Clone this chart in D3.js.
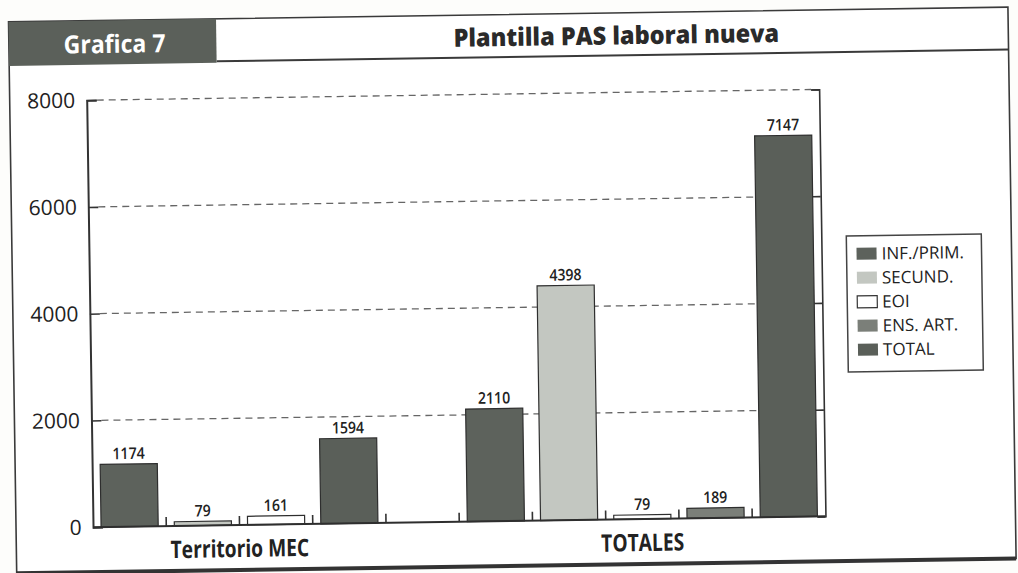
<!DOCTYPE html>
<html>
<head>
<meta charset="utf-8">
<script src="https://cdn.jsdelivr.net/npm/d3@7"></script>
<style>
  html, body { margin: 0; padding: 0; background: #fdfdfb; }
  svg { display: block; }
  text { font-family: "Open Sans", "Noto Sans", sans-serif; fill: #222; }
</style>
</head>
<body>
<svg id="chart" width="1018" height="573"></svg>
<script>
// Series, in legend order
const seriesNames = ["INF./PRIM.", "SECUND.", "EOI", "ENS. ART.", "TOTAL"];
const groupNames = ["Territorio MEC", "TOTALES"];

// Values per series (same order as seriesNames); null = no bar
const territorioMEC = [1174, 79, 161, null, 1594];
const totales = [2110, 4398, 79, 189, 7147];

// Order in which the series occupy the slots of each group
const slotOrderMEC = ["INF./PRIM.", "SECUND.", "EOI", "TOTAL", "ENS. ART."];
const slotOrderTotales = ["INF./PRIM.", "SECUND.", "EOI", "ENS. ART.", "TOTAL"];

const yTicks = [0, 2000, 4000, 6000, 8000];

const chartTitle = "Plantilla PAS laboral nueva";
const chartNumber = "Grafica 7";

const fills = {
  "INF./PRIM.": "#5d625c",
  "SECUND.": "#c3c7c1",
  "EOI": "#ffffff",
  "ENS. ART.": "#7b7f79",
  "TOTAL": "#5a5f59"
};

// Build flat slot list
const valuesByGroup = { "Territorio MEC": territorioMEC, "TOTALES": totales };
const orderByGroup = { "Territorio MEC": slotOrderMEC, "TOTALES": slotOrderTotales };
const slots = [];
groupNames.forEach(g => {
  orderByGroup[g].forEach(s => {
    const v = valuesByGroup[g][seriesNames.indexOf(s)];
    slots.push({ id: g + "|" + s, group: g, series: s, value: v });
  });
});

const svg = d3.select("#chart");
const root = svg.append("g").attr("transform", "rotate(-0.85,509,286)");

// Outer frame
const frame = { left: 12.5, right: 1012, top: 14.5, bottom: 566 };
root.append("rect")
  .attr("x", frame.left).attr("y", frame.top)
  .attr("width", frame.right - frame.left).attr("height", frame.bottom - frame.top)
  .attr("fill", "#ffffff").attr("stroke", "#3a3a3a").attr("stroke-width", 1.6);
root.append("line")
  .attr("x1", frame.left).attr("x2", frame.right)
  .attr("y1", frame.bottom).attr("y2", frame.bottom)
  .attr("stroke", "#333").attr("stroke-width", 4);

// Header
const headerBottom = 58.5;
root.append("line")
  .attr("x1", 220).attr("x2", frame.right)
  .attr("y1", 57).attr("y2", 57)
  .attr("stroke", "#3a3a3a").attr("stroke-width", 2);
root.append("rect")
  .attr("x", frame.left).attr("y", frame.top)
  .attr("width", 220 - frame.left).attr("height", headerBottom - frame.top)
  .attr("fill", "#5b605a");

function condense(sel, k) {
  sel.each(function () {
    const w = this.getComputedTextLength();
    d3.select(this).attr("textLength", w * k).attr("lengthAdjust", "spacingAndGlyphs");
  });
}

root.append("text")
  .attr("x", (frame.left + 220) / 2 + 2).attr("y", 47)
  .attr("text-anchor", "middle")
  .style("font-size", "25px").style("font-weight", 700)
  .style("fill", "#ffffff")
  .text(chartNumber)
  .call(condense, 0.92);

root.append("text")
  .attr("x", (220 + frame.right) / 2 + 4).attr("y", 46)
  .attr("text-anchor", "middle")
  .style("font-size", "25px").style("font-weight", 800)
  .style("fill", "#2a2a2a")
  .text(chartTitle)
  .call(condense, 0.94);

// Plot area
const plot = { left: 89.5, right: 822, top: 94, bottom: 521 };

const x = d3.scaleBand()
  .domain(slots.map(d => d.id))
  .range([plot.left, plot.right])
  .paddingInner(0.22)
  .paddingOuter(0.11);

const y = d3.scaleLinear().domain([0, 8000]).range([plot.bottom, plot.top]);

// Dashed gridlines
root.append("g")
  .selectAll("line")
  .data(yTicks.filter(t => t > 0))
  .join("line")
  .attr("x1", plot.left + 10).attr("x2", plot.right - 8)
  .attr("y1", d => y(d)).attr("y2", d => y(d))
  .attr("stroke", "#666").attr("stroke-width", 1.3)
  .attr("stroke-dasharray", "7,5");

// Left axis with inward ticks
const yAxisLeft = root.append("g")
  .attr("transform", `translate(${plot.left},0)`)
  .call(d3.axisRight(y).tickValues(yTicks).tickSize(10).tickFormat(""));
yAxisLeft.select(".domain").attr("stroke", "#333").attr("stroke-width", 2);
yAxisLeft.selectAll(".tick line").attr("stroke", "#333").attr("stroke-width", 1.6);

// Right axis with inward ticks
const yAxisRight = root.append("g")
  .attr("transform", `translate(${plot.right},0)`)
  .call(d3.axisLeft(y).tickValues(yTicks).tickSize(8).tickFormat(""));
yAxisRight.select(".domain").attr("stroke", "#333").attr("stroke-width", 1.6);
yAxisRight.selectAll(".tick line").attr("stroke", "#333").attr("stroke-width", 1.6);

// Y tick labels
root.append("g")
  .selectAll("text")
  .data(yTicks)
  .join("text")
  .attr("x", 78).attr("y", d => y(d))
  .attr("dy", "0.35em")
  .attr("text-anchor", "end")
  .style("font-size", "21px")
  .text(d => d);

// Bars
const barData = slots.filter(d => d.value != null);
root.append("g")
  .selectAll("rect")
  .data(barData)
  .join("rect")
  .attr("x", d => x(d.id))
  .attr("y", d => y(d.value))
  .attr("width", x.bandwidth())
  .attr("height", d => y(0) - y(d.value))
  .attr("fill", d => fills[d.series])
  .attr("stroke", "#2e2e2e").attr("stroke-width", 1.2);

// Value labels
root.append("g")
  .selectAll("text")
  .data(barData)
  .join("text")
  .attr("x", d => x(d.id) + x.bandwidth() / 2)
  .attr("y", d => y(d.value) - 5)
  .attr("text-anchor", "middle")
  .style("font-size", "16px").style("font-weight", 600)
  .text(d => d.value)
  .call(condense, 0.88);

// Baseline with slot-separator ticks
const boundaries = slots.slice(1).map(d => x(d.id) - x.step() * x.paddingInner() / 2);
root.append("g")
  .selectAll("line")
  .data(boundaries)
  .join("line")
  .attr("x1", d => d).attr("x2", d => d)
  .attr("y1", y(0)).attr("y2", y(0) - 9)
  .attr("stroke", "#333").attr("stroke-width", 1.6);
root.append("line")
  .attr("x1", plot.left).attr("x2", plot.right)
  .attr("y1", y(0)).attr("y2", y(0))
  .attr("stroke", "#2e2e2e").attr("stroke-width", 2);

// Group labels, centred on the group's filled slots
root.append("g")
  .selectAll("text")
  .data(groupNames)
  .join("text")
  .attr("x", g => d3.mean(slots.filter(d => d.group === g && d.value != null), d => x(d.id) + x.bandwidth() / 2))
  .attr("y", 553)
  .attr("text-anchor", "middle")
  .style("font-size", "24px").style("font-weight", 700)
  .text(g => g)
  .call(condense, 0.8);

// Legend
const legend = root.append("g").attr("transform", "translate(847,241)");
legend.append("rect")
  .attr("width", 135).attr("height", 136)
  .attr("fill", "#fff").attr("stroke", "#444").attr("stroke-width", 1.5);
const items = legend.selectAll("g.item")
  .data(seriesNames)
  .join("g").attr("class", "item")
  .attr("transform", (d, i) => `translate(10,${18 + i * 24})`);
items.append("rect")
  .attr("x", 0).attr("y", -6)
  .attr("width", 20).attr("height", 12)
  .attr("fill", d => fills[d])
  .attr("stroke", d => d === "EOI" ? "#333" : "none").attr("stroke-width", 1.2);
items.append("text")
  .attr("x", 25).attr("dy", "0.35em")
  .style("font-size", "17px")
  .text(d => d);
</script>
</body>
</html>
